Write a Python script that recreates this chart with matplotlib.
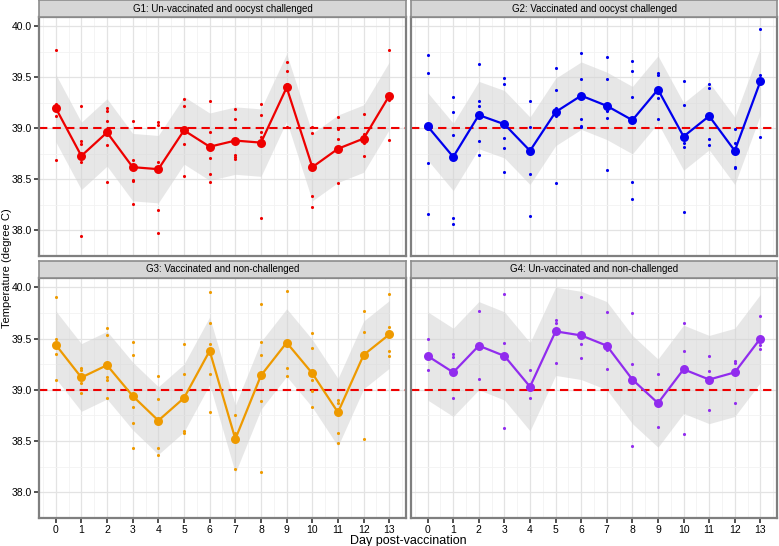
import matplotlib
matplotlib.use("Agg")
import matplotlib.pyplot as plt
import numpy as np

plt.rcParams['font.family'] = ['Liberation Sans', 'DejaVu Sans']

days = list(range(14))
titles = ["G1: Un-vaccinated and oocyst challenged",
          "G2: Vaccinated and oocyst challenged",
          "G3: Vaccinated and non-challenged",
          "G4: Un-vaccinated and non-challenged"]
colors = ["#EE0000", "#0000EE", "#EE9A00", "#912CEE"]

g1_mean = [39.20, 38.73, 38.96, 38.62, 38.60, 38.98, 38.82, 38.88, 38.86, 39.40, 38.62, 38.80, 38.90, 39.32]
g2_mean = [39.02, 38.72, 39.13, 39.04, 38.78, 39.16, 39.32, 39.22, 39.08, 39.38, 38.92, 39.12, 38.78, 39.46]
g3_mean = [39.44, 39.12, 39.24, 38.94, 38.70, 38.92, 39.38, 38.52, 39.14, 39.46, 39.16, 38.78, 39.34, 39.54]
g4_mean = [39.33, 39.17, 39.43, 39.33, 39.03, 39.57, 39.53, 39.43, 39.10, 38.87, 39.20, 39.10, 39.17, 39.50]
band_half = [0.33, 0.33, 0.33, 0.43]

g1_obs = [[39.77, 39.24, 39.21, 39.12, 38.69],
          [39.22, 38.88, 38.85, 38.67, 37.95],
          [39.20, 39.17, 39.07, 38.84, 38.47],
          [39.07, 38.69, 38.49, 38.48, 38.26],
          [39.06, 39.03, 38.67, 38.20, 37.98],
          [39.29, 39.22, 38.98, 38.85, 38.53],
          [39.27, 38.96, 38.71, 38.55, 38.47],
          [39.19, 39.09, 38.74, 38.72, 38.70],
          [39.24, 39.13, 38.96, 38.92, 38.12],
          [39.65, 39.56, 39.43, 39.41, 39.01],
          [39.01, 38.95, 38.34, 38.23],
          [39.11, 38.99, 38.90, 38.46],
          [39.14, 38.94, 38.86, 38.73],
          [39.77, 39.31, 39.28, 38.89]]
g2_obs = [[39.72, 39.54, 38.99, 38.66, 38.16],
          [39.31, 39.16, 38.93, 38.12, 38.06],
          [39.63, 39.27, 39.22, 38.88, 38.74],
          [39.49, 39.43, 38.91, 38.81, 38.57],
          [39.27, 39.01, 38.55, 38.14],
          [39.59, 39.38, 39.20, 39.12, 38.46],
          [39.74, 39.48, 39.09, 39.02, 39.01],
          [39.70, 39.48, 39.17, 39.10, 38.59],
          [39.66, 39.56, 39.31, 38.47, 38.31],
          [39.54, 39.52, 39.30, 39.09],
          [39.46, 39.23, 38.86, 38.82, 38.18],
          [39.43, 39.39, 38.90, 38.84],
          [38.99, 38.86, 38.62, 38.61],
          [39.97, 39.52, 38.92]]
g3_obs = [[39.90, 39.50, 39.35, 39.10],
          [39.21, 39.19, 39.07, 38.97],
          [39.60, 39.53, 39.12, 39.10, 38.92],
          [39.47, 39.34, 38.83, 38.68, 38.43],
          [39.13, 38.91, 38.43, 38.36],
          [39.45, 39.15, 38.60, 38.58],
          [39.95, 39.65, 39.45, 39.15, 38.78],
          [38.75, 38.58, 38.23],
          [39.84, 39.47, 39.34, 38.89, 38.20],
          [39.96, 39.21, 39.13],
          [39.55, 39.41, 39.10, 38.99, 38.83],
          [38.90, 38.87, 38.58, 38.48],
          [39.77, 39.56, 39.37, 38.52],
          [39.93, 39.61, 39.38, 39.33]]
g4_obs = [[39.50, 39.31, 39.19],
          [39.35, 39.32, 38.92],
          [39.77, 39.11],
          [39.93, 39.46, 39.34, 38.63],
          [39.19, 38.92],
          [39.68, 39.65, 39.26],
          [39.90, 39.45, 39.31],
          [39.76, 39.39, 39.20],
          [39.75, 39.25, 38.45],
          [39.15, 38.64],
          [39.65, 39.38, 38.57],
          [39.33, 39.18, 38.80],
          [39.28, 39.26, 38.87],
          [39.72, 39.44, 39.40]]

means = [g1_mean, g2_mean, g3_mean, g4_mean]
obs = [g1_obs, g2_obs, g3_obs, g4_obs]
ref_temp = 39.0
yticks = [38.0, 38.5, 39.0, 39.5, 40.0]

W, H = 779, 546
fig = plt.figure(figsize=(W / 100, H / 100), dpi=100)

# panel pixel boxes: (x0, x1, y0_top, y1_bottom)
cols = [(39, 406), (411, 777)]
rows = [(17, 256), (278, 518)]
strips = [(0, 17), (261, 278)]

for i in range(4):
    r, c = divmod(i, 2)
    x0, x1 = cols[c]
    y0, y1 = rows[r]
    ax = fig.add_axes([x0 / W, 1 - y1 / H, (x1 - x0) / W, (y1 - y0) / H])
    ax.set_xlim(-0.65, 13.65)
    ax.set_ylim(37.86, 40.09)
    ax.set_xticks(days)
    ax.set_xticks(np.arange(-0.5, 14, 1.0), minor=True)
    ax.set_yticks(yticks)
    ax.set_yticks(np.arange(37.75, 40.1, 0.5), minor=True)
    ax.grid(which='major', color='#e3e3e3', lw=0.9, zorder=0)
    ax.grid(which='minor', color='#f2f2f2', lw=0.6, zorder=0)
    ax.set_axisbelow(True)
    for s in ax.spines.values():
        s.set_color('#7f7f7f')
        s.set_linewidth(1.6)
    ax.tick_params(which='minor', length=0)
    ax.tick_params(which='major', length=3.5, width=1.2, color='#333333',
                   labelsize=7.5, pad=1.5)
    if r == 0:
        ax.tick_params(axis='x', labelbottom=False, length=0)
    if c == 1:
        ax.tick_params(axis='y', labelleft=False, length=0)
    ax.set_yticklabels([f"{v:.1f}" for v in yticks])

    m = np.array(means[i])
    hw = band_half[i]
    ax.fill_between(days, m - hw, m + hw, color='#d4d4d4', alpha=0.55,
                    lw=0, zorder=1)
    for d, vals in zip(days, obs[i]):
        ax.scatter([d] * len(vals), vals, s=5, color=colors[i], lw=0, zorder=3)
    ax.axhline(ref_temp, color='#EE0000', ls=(0, (4, 2.5)), lw=1.5, zorder=2)
    ax.plot(days, m, color=colors[i], lw=1.6, zorder=4)
    ax.scatter(days, m, s=42, color=colors[i], lw=0, zorder=5)

    # strip
    sy0, sy1 = strips[r]
    sax = fig.add_axes([x0 / W, 1 - sy1 / H, (x1 - x0) / W, (sy1 - sy0) / H])
    sax.set_facecolor('#d6d6d6')
    sax.set_xticks([])
    sax.set_yticks([])
    for s in sax.spines.values():
        s.set_color('#8c8c8c')
        s.set_linewidth(1.2)
    sax.text(0.5, 0.5, titles[i], ha='center', va='center', fontsize=7,
             transform=sax.transAxes)

fig.text(7 / W, 1 - 268 / H, "Temperature (degree C)", rotation=90,
         ha='center', va='center', fontsize=8)
fig.text(408 / W, 1 - 541 / H, "Day post-vaccination", ha='center',
         va='center', fontsize=9)

fig.savefig("out.png", dpi=100)
